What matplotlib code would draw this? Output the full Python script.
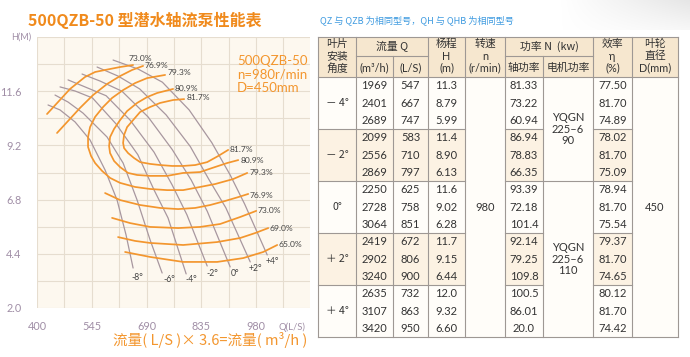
import matplotlib
matplotlib.use('Agg')
import matplotlib.pyplot as plt
from matplotlib.patches import Rectangle
import numpy as np

CJK = ['Noto Sans CJK SC', 'DejaVu Sans']
LAT = ['Lato', 'DejaVu Sans']

ORANGE = '#f3962e'
GRAYLINE = '#a8979f'
TICKC = '#a08ea6'

# ---------------- chart data (Q in L/s, H in m) ----------------
angle_names = ['-8°', '-6°', '-4°', '-2°', '0°', '+2°', '+4°']
hq_m8_Q = [429.2, 461.0, 500.7, 540.5, 580.3, 612.1, 635.9, 654.5]
hq_m8_H = [10.99, 10.77, 10.24, 9.44, 8.11, 6.78, 5.23, 3.77]
hq_m6_Q = [447.7, 482.2, 521.9, 585.6, 628.0, 665.1, 699.6, 731.4]
hq_m6_H = [11.43, 11.12, 10.63, 9.57, 8.42, 6.78, 5.01, 3.55]
hq_m4_Q = [461.0, 500.7, 547.0, 609.4, 667.0, 710.2, 747.0, 795.0]
hq_m4_H = [11.79, 11.61, 11.30, 10.15, 8.79, 7.22, 5.99, 3.51]
hq_m2_Q = [482.2, 527.2, 583.0, 646.5, 710.0, 757.9, 797.0, 850.7]
hq_m2_H = [12.10, 11.79, 11.40, 10.32, 8.90, 7.45, 6.13, 3.86]
hq_0_Q = [519.3, 567.0, 625.0, 694.3, 758.0, 808.3, 851.0, 911.6]
hq_0_H = [12.36, 12.05, 11.60, 10.46, 9.02, 7.67, 6.28, 3.82]
hq_p2_Q = [559.1, 614.7, 672.0, 742.0, 806.0, 856.0, 900.0, 964.7]
hq_p2_H = [12.67, 12.27, 11.70, 10.55, 9.15, 7.67, 6.44, 4.04]
hq_p4_Q = [601.5, 667.8, 732.0, 803.0, 863.0, 911.6, 950.0, 1009.7]
hq_p4_H = [12.98, 12.58, 12.00, 10.77, 9.32, 7.89, 6.60, 4.35]
angle_label_Q = [666.4, 750.0, 809.6, 865.3, 923.6, 979.2, 1023.0]
angle_label_H = [3.37, 3.28, 3.28, 3.51, 3.51, 3.77, 4.04]

# efficiency contours
eff_73u_Q = [426.5, 455.7, 487.5, 527.2, 553.8, 580.3, 620.0, 654.5]
eff_73u_H = [10.59, 11.12, 11.70, 12.23, 12.45, 12.54, 12.67, 12.76]
eff_769u_Q = [453.0, 482.2, 514.0, 548.5, 585.6, 620.0, 651.8, 681.0]
eff_769u_H = [9.75, 10.28, 10.86, 11.43, 11.92, 12.27, 12.54, 12.72]
eff_793_Q = [739.3, 691.6, 659.8, 628.0, 598.8, 575.0, 553.8, 540.5, 535.2, 535.2, 543.2,
             553.8, 572.3, 593.5, 620.0, 659.8, 699.6, 744.6, 787.0, 832.1, 871.9, 919.6, 956.7]
eff_793_H = [12.32, 12.18, 11.96, 11.65, 11.30, 10.90, 10.46, 10.01, 9.57, 9.13, 8.73,
             8.42, 8.07, 7.76, 7.54, 7.36, 7.27, 7.22, 7.22, 7.36, 7.49, 7.71, 7.98]
eff_809_Q = [760.5, 718.1, 691.6, 665.1, 638.6, 620.0, 604.1, 593.5, 590.9, 593.5, 604.1,
             620.0, 641.2, 665.1, 699.6, 744.6, 787.0, 832.1, 863.9, 903.7, 932.9]
eff_809_H = [11.70, 11.52, 11.34, 11.08, 10.72, 10.32, 9.93, 9.57, 9.17, 8.86, 8.51,
             8.24, 7.98, 7.89, 7.85, 7.85, 7.98, 8.02, 8.20, 8.42, 8.55]
eff_817_Q = [789.7, 760.5, 726.1, 699.6, 673.1, 654.5, 638.6, 630.6, 628.0, 630.6, 641.2,
             657.1, 673.1, 699.6, 726.1, 757.9, 787.0, 818.9, 850.7, 879.8, 906.3]
eff_817_H = [11.25, 11.21, 11.08, 10.90, 10.68, 10.32, 10.01, 9.66, 9.31, 9.08, 8.86,
             8.64, 8.46, 8.38, 8.33, 8.29, 8.29, 8.33, 8.46, 8.73, 9.00]
eff_769l_Q = [580.3, 620.0, 673.1, 726.1, 773.8, 818.9, 858.6, 898.4, 932.9, 959.4]
eff_769l_H = [7.09, 6.78, 6.56, 6.43, 6.38, 6.43, 6.56, 6.74, 6.91, 7.05]
eff_73l_Q = [598.8, 646.5, 699.6, 773.8, 832.1, 885.1, 938.2, 980.6]
eff_73l_H = [5.99, 5.76, 5.59, 5.54, 5.59, 5.72, 6.03, 6.30]
eff_69_Q = [614.7, 659.8, 699.6, 787.0, 877.2, 938.2, 978.0, 1012.4]
eff_69_H = [5.14, 4.97, 4.88, 4.79, 4.92, 5.10, 5.32, 5.54]
eff_65_Q = [633.3, 699.6, 787.0, 877.2, 946.1, 999.1, 1036.2]
eff_65_H = [4.48, 4.26, 4.04, 4.04, 4.21, 4.48, 4.79]

eff_labels = ['73.0%', '76.9%', '79.3%', '80.9%', '81.7%',
              '81.7%', '80.9%', '79.3%', '76.9%', '73.0%', '69.0%', '65.0%']
eff_label_Q = [641.2, 683.7, 744.6, 765.8, 795.0, 909.0, 938.2, 962.0, 962.0, 983.2, 1015.0, 1038.9]
eff_label_H = [13.07, 12.76, 12.41, 11.70, 11.30, 9.00, 8.55, 7.98, 7.00, 6.30, 5.54, 4.79]

x_ticks = [400, 545, 690, 835, 980]
y_ticks = [11.6, 9.2, 6.8, 4.4, 2.0]

# ---------------- table data ----------------
table_angles = ['－ 4°', '－ 2°', '0°', '＋ 2°', '＋ 4°']
flow_m3h = ['1969', '2401', '2689', '2099', '2556', '2869', '2250', '2728', '3064',
            '2419', '2902', '3240', '2635', '3107', '3420']
flow_ls = ['547', '667', '747', '583', '710', '797', '625', '758', '851',
           '672', '806', '900', '732', '863', '950']
head_m = ['11.3', '8.79', '5.99', '11.4', '8.90', '6.13', '11.6', '9.02', '6.28',
          '11.7', '9.15', '6.44', '12.0', '9.32', '6.60']
shaft_kw = ['81.33', '73.22', '60.94', '86.94', '78.83', '66.35', '93.39', '72.18', '101.4',
            '92.14', '79.25', '109.8', '100.5', '86.01', '20.0']
eff_pct = ['77.50', '81.70', '74.89', '78.02', '81.70', '75.09', '78.94', '81.70', '75.54',
           '79.37', '81.70', '74.65', '80.12', '81.70', '74.42']
speed_rpm = '980'
impeller_mm = '450'
motor_models = ['YQGN\n225–6\n90', 'YQGN\n225–6\n110']

# ---------------- figure ----------------
fig = plt.figure(figsize=(6.9, 3.57), dpi=100)
fig.patch.set_facecolor('white')

bg = fig.add_axes([0, 0, 1, 1])
bg.set_xlim(0, 690)
bg.set_ylim(357, 0)
bg.axis('off')

# faint grey smear top-right (soft gradient)
grad = np.linspace(0, 1, 100)[None, :] * np.linspace(1, 0.3, 20)[:, None]
rgba = np.zeros((20, 100, 4))
rgba[..., :3] = 0.86
rgba[..., 3] = grad * 0.7
bg.imshow(rgba, extent=(560, 690, 30, 0), aspect='auto', zorder=0, interpolation='bilinear')
bg.set_xlim(0, 690)
bg.set_ylim(357, 0)

bg.text(28, 20, '500QZB-50 型潜水轴流泵性能表', family=CJK, fontsize=11.5, fontweight='bold',
        color='#f08a1c', ha='left', va='center')
bg.text(320, 20, 'QZ 与 QZB 为相同型号，QH 与 QHB 为相同型号', family=CJK, fontsize=6.6,
        color='#3f9be0', ha='left', va='center')
bg.text(210, 340, '流量( L/S )× 3.6=流量( m³/h )', family=CJK, fontsize=10.5,
        color=ORANGE, ha='center', va='center')

# ---- table ----
cx = [318, 356, 393, 428, 465, 505, 543, 593, 632, 678]
ytop, ymid, yhead = 37, 56, 77.3
rh = (337 - yhead) / 15.0
HEADBG = '#f6e7cf'
SHADE = '#fcf2e3'
PLAIN = '#fffdf9'
LC = '#9e9894'
TXT = '#333333'

bg.add_patch(Rectangle((cx[0], ytop), cx[-1] - cx[0], yhead - ytop, facecolor=HEADBG, edgecolor='none'))
bg.add_patch(Rectangle((cx[0], yhead), cx[-1] - cx[0], 337 - yhead, facecolor=PLAIN, edgecolor='none'))
for g in (1, 3):
    for c in (0, 1, 2, 3, 5, 7):
        bg.add_patch(Rectangle((cx[c], yhead + g * 3 * rh), cx[c + 1] - cx[c], 3 * rh,
                               facecolor=SHADE, edgecolor='none'))

# vertical lines
for i, x in enumerate(cx):
    if i in (2, 6):
        bg.plot([x, x], [ymid, 337], color=LC, lw=0.8)
    else:
        bg.plot([x, x], [ytop, 337], color=LC, lw=0.8)
bg.plot([cx[0], cx[-1]], [ytop, ytop], color=LC, lw=0.8)
bg.plot([cx[0], cx[-1]], [337, 337], color=LC, lw=0.8)
bg.plot([cx[0], cx[-1]], [yhead, yhead], color=LC, lw=0.8)
bg.plot([cx[1], cx[3]], [ymid, ymid], color=LC, lw=0.8)
bg.plot([cx[5], cx[7]], [ymid, ymid], color=LC, lw=0.8)
for g in range(1, 5):
    yy = yhead + g * 3 * rh
    for c in (0, 1, 2, 3, 5, 7):
        bg.plot([cx[c], cx[c + 1]], [yy, yy], color=LC, lw=0.8)
    if g == 2:
        bg.plot([cx[6], cx[7]], [yy, yy], color=LC, lw=0.8)

def cc(c):
    return (cx[c] + cx[c + 1]) / 2.0

hfs = 7.8
def htxt(x, y, s, fam=CJK):
    bg.text(x, y, s, family=fam, fontsize=hfs, color=TXT, ha='center', va='center')

htxt(cc(0), 43.5, '叶片'); htxt(cc(0), 56, '安装'); htxt(cc(0), 68.5, '角度')
htxt((cx[1] + cx[3]) / 2, 46.5, '流量 Q')
htxt(cc(1), 68, '(m³/h)', LAT); htxt(cc(2), 68, '(L/S)', LAT)
htxt(cc(3), 43.5, '杨程'); htxt(cc(3), 56, 'H', LAT); htxt(cc(3), 68, '(m)', LAT)
htxt(cc(4), 43.5, '转速'); htxt(cc(4), 56, 'n', LAT); htxt(cc(4), 68, '(r/min)', LAT)
htxt((cx[5] + cx[7]) / 2, 46.5, '功率 N  (kw)')
htxt(cc(5), 68, '轴功率'); htxt(cc(6), 68, '电机功率')
htxt(cc(7), 43.5, '效率'); htxt(cc(7), 56, 'η', LAT); htxt(cc(7), 68, '(%)', LAT)
htxt(cc(8), 43.5, '叶轮'); htxt(cc(8), 56, '直径'); htxt(cc(8), 68, 'D(mm)', LAT)

dfs = 8.0
for r in range(15):
    yc = yhead + (r + 0.5) * rh
    for c, col in ((1, flow_m3h), (2, flow_ls), (3, head_m), (5, shaft_kw), (7, eff_pct)):
        bg.text(cc(c), yc, col[r], family=LAT, fontsize=dfs, color=TXT, ha='center', va='center')
for g in range(5):
    yc = yhead + (g * 3 + 1.5) * rh
    bg.text(cc(0), yc, table_angles[g], family=CJK, fontsize=dfs - 0.4, color=TXT,
            ha='center', va='center')
bg.text(cc(4), (yhead + 337) / 2, speed_rpm, family=LAT, fontsize=dfs, color=TXT, ha='center', va='center')
bg.text(cc(8), (yhead + 337) / 2, impeller_mm, family=LAT, fontsize=dfs, color=TXT, ha='center', va='center')
bg.text(cc(6), yhead + 3 * rh, motor_models[0], family=LAT, fontsize=dfs, color=TXT,
        ha='center', va='center', linespacing=1.05)
bg.text(cc(6), yhead + 10.5 * rh, motor_models[1], family=LAT, fontsize=dfs, color=TXT,
        ha='center', va='center', linespacing=1.05)

# ---- chart ----
ax = fig.add_axes([37 / 690, (357 - 308) / 357, 273 / 690, 271 / 357])
ax.set_facecolor('#fdf8ef')
ax.set_xlim(400, 1123)
ax.set_ylim(2.0, 14.0)
for s in ax.spines.values():
    s.set_visible(False)
ax.set_xticks(np.arange(400, 1123, 72.5), minor=True)
ax.set_yticks(np.arange(2.0, 14.01, 1.2), minor=True)
ax.set_xticks(x_ticks)
ax.set_xticklabels([str(v) for v in x_ticks])
ax.set_yticks(y_ticks)
ax.set_yticklabels(['%.1f' % v for v in y_ticks])
ax.grid(which='both', color='#e6ddcf', lw=0.8)
ax.set_axisbelow(True)
ax.tick_params(which='both', length=0)
ax.tick_params(axis='x', pad=9, labelsize=7.8, labelcolor=TICKC)
ax.tick_params(axis='y', pad=11, labelsize=7.8, labelcolor=TICKC)
for lab in ax.get_xticklabels() + ax.get_yticklabels():
    lab.set_family(LAT)

hq_Q = [hq_m8_Q, hq_m6_Q, hq_m4_Q, hq_m2_Q, hq_0_Q, hq_p2_Q, hq_p4_Q]
hq_H = [hq_m8_H, hq_m6_H, hq_m4_H, hq_m2_H, hq_0_H, hq_p2_H, hq_p4_H]
for q, h in zip(hq_Q, hq_H):
    ax.plot(q, h, color=GRAYLINE, lw=0.9, solid_joinstyle='round', solid_capstyle='round', zorder=2)
for name, q, h in zip(angle_names, angle_label_Q, angle_label_H):
    ax.text(q, h, name, family=LAT, fontsize=6.2, color='#444444', ha='center', va='center', zorder=4)

eff_Q = [eff_73u_Q, eff_769u_Q, eff_793_Q, eff_809_Q, eff_817_Q, eff_769l_Q, eff_73l_Q, eff_69_Q, eff_65_Q]
eff_H = [eff_73u_H, eff_769u_H, eff_793_H, eff_809_H, eff_817_H, eff_769l_H, eff_73l_H, eff_69_H, eff_65_H]
for q, h in zip(eff_Q, eff_H):
    ax.plot(q, h, color=ORANGE, lw=1.25, solid_joinstyle='round', solid_capstyle='round', zorder=3)
for name, q, h in zip(eff_labels, eff_label_Q, eff_label_H):
    ax.text(q, h, name, family=LAT, fontsize=6.1, color='#444444', ha='left', va='center', zorder=4)

ax.text(-0.095, 1.0, 'H(M)', transform=ax.transAxes, family=LAT, fontsize=6.5, color=TICKC,
        ha='left', va='center')
ax.text(1040, 1.35, 'Q(L/S)', family=LAT, fontsize=6.8, color=TICKC, ha='left', va='top')

ax.text(0.733, 0.935, '500QZB-50\nn=980r/min\nD=450mm', transform=ax.transAxes, family=LAT,
        fontsize=9.5, color=ORANGE, ha='left', va='top', linespacing=1.15)

fig.savefig('out.png', dpi=100)
